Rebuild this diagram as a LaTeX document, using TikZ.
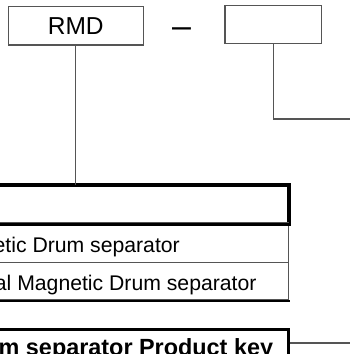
\documentclass[tikz,border=0pt]{standalone}
\usepackage{fontspec}
\setmainfont{Liberation Sans}
\definecolor{linegray}{HTML}{555555}
\begin{document}
\begin{tikzpicture}[x=1pt,y=-1pt,
  thinbox/.style={draw=linegray, line width=1.2pt, inner sep=0pt},
  thickbox/.style={draw=black, line width=2.6pt, inner sep=0pt},
  conn/.style={draw=linegray, line width=1.2pt},
  keytext/.style={font=\fontsize{24.5}{28}\selectfont, inner sep=0pt},
  rowtext/.style={font=\fontsize{21.2}{24}\selectfont, inner sep=0pt, anchor=base east},
  boldtext/.style={font=\fontsize{23.4}{28}\selectfont\bfseries, inner sep=0pt, anchor=base east}]
\useasboundingbox (0,0) rectangle (350,354);
% top key boxes
\node[thinbox, keytext, minimum width=135pt, minimum height=38.5pt] (rmd) at (75.8,25.8) {RMD};
\node[keytext, font=\fontsize{34}{34}\selectfont, anchor=base] (dash) at (181.5,37) {–};
\node[thinbox, minimum width=96.5pt, minimum height=38pt] (box2) at (273.25,24.5) {};
% table
\node[thickbox, minimum width=388.5pt, minimum height=37pt] (header) at (94.25,204.5) {};
\node[thinbox, minimum width=388.7pt, minimum height=39.5pt] (row1) at (94.35,242.75) {};
\node[thinbox, minimum width=388.7pt, minimum height=37.5pt] (row2) at (94.35,281.25) {};
\draw[black, line width=2.2pt] (row2.south west) -- ([xshift=0.6pt]row2.south east);
\draw[thickbox] (header.south west) rectangle (header.north east);
\node[rowtext] (t1) at (180,252.5) {etic Drum separator};
\node[rowtext] (t2) at (256.7,290.5) {al Magnetic Drum separator};
% bottom product key box
\node[thickbox, minimum width=388.5pt, minimum height=60pt] (bottom) at (94.25,359.5) {};
\node[boldtext] (t3) at (273.3,355) {m separator Product key};
% connectors
\coordinate (rt) at (352,119);
\coordinate (bt) at (352,343);
\draw[conn] (rmd.south) -- (rmd.south |- header.north);
\draw[conn] (box2.south) |- (rt);
\draw[conn] (bt -| bottom.east) -- (bt);
\end{tikzpicture}
\end{document}
